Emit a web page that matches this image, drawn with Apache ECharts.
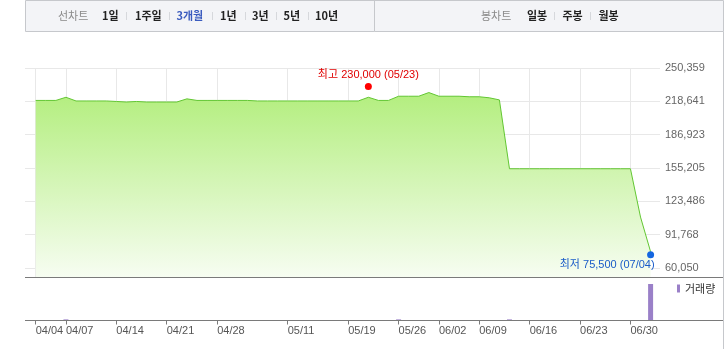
<!DOCTYPE html>
<html><head><meta charset="utf-8">
<script src="https://cdn.jsdelivr.net/npm/echarts@6/dist/echarts.min.js"></script>
<style>html,body{margin:0;padding:0;background:#fff}#c{width:727px;height:349px}</style>
</head><body><div id="c"></div>
<script>
// ---------------- data ----------------
const dates = [
 '04/04','04/05','04/06','04/07','04/08','04/09','04/10','04/11',
 '04/14','04/15','04/16','04/17','04/18',
 '04/21','04/22','04/23','04/24','04/25',
 '04/28','04/29','04/30','05/02','05/07','05/08','05/09',
 '05/11','05/12','05/13','05/14','05/15','05/16',
 '05/19','05/22','05/23','05/24','05/25',
 '05/26','05/27','05/28','05/29',
 '06/02','06/04','06/05','06/06',
 '06/09','06/10','06/11','06/12','06/13',
 '06/16','06/17','06/18','06/19','06/20',
 '06/23','06/24','06/25','06/26','06/27',
 '06/30','07/03','07/04'
];
const closes = [
 219500,219500,219500,222500,219000,219000,219000,219000,
 218500,218000,218500,218000,218000,
 218000,218000,221000,219500,219500,
 219500,219500,219500,219500,219000,219000,219000,
 219000,219000,219000,219000,219000,219000,
 219000,219000,222500,219500,219500,
 223500,223500,223500,227000,
 223500,223500,223500,223000,
 223000,222000,220000,154500,154500,
 154500,154500,154500,154500,154500,
 154500,154500,154500,154500,154500,
 154500,108500,75500
];
const volumes = [
 0,0,0,30000,0,0,0,0,
 0,0,0,0,0,
 0,0,0,0,0,
 0,0,0,0,0,0,0,
 0,0,0,0,0,0,
 0,0,0,0,0,
 30000,0,0,0,
 0,0,0,0,
 0,0,0,30000,0,
 0,0,0,0,0,
 0,0,0,0,0,
 0,0,1000000
];
const yTickLabels = [60050, 91768, 123486, 155205, 186923, 218641, 250359];
const xTickLabels = ['04/04','04/07','04/14','04/21','04/28','05/11','05/19','05/26','06/02','06/09','06/16','06/23','06/30'];
const highDate = '05/23', highValue = 230000;
const lowDate = '07/04', lowValue = 75500;
const volumeName = '거래량';
const lineTabs = ['1일','1주일','3개월','1년','3년','5년','10년'];
const candleTabs = ['일봉','주봉','월봉'];

// ---------------- layout ----------------
const W = 727, H = 349;
const plotTop = 68, gridLineBottom = 268, priceAxisY = 278;
const dataLeft = 35.7, dataRight = 650.6;
const volTop = 284, volBase = 320.5;
const yMin = yTickLabels[0], yMax = yTickLabels[yTickLabels.length - 1];
const yInterval = (yMax - yMin) / (yTickLabels.length - 1);
const dataMin = yMin - (priceAxisY - gridLineBottom) / (gridLineBottom - plotTop) * (yMax - yMin);
const fmt = v => String(v).replace(/\B(?=(\d{3})+(?!\d))/g, ',');
const labelSet = new Set(xTickLabels);
const FONT = "'Liberation Sans','Noto Sans CJK KR',sans-serif";
const KFONT = "'Noto Sans CJK KR',sans-serif";

// toolbar graphics
const graphics = [];
graphics.push({type:'rect', shape:{x:25.5,y:0.5,width:698,height:31}, style:{fill:'#f3f4f7',stroke:'#c6c8cc',lineWidth:1}, silent:true});
graphics.push({type:'line', shape:{x1:374.5,y1:0,x2:374.5,y2:31.5}, style:{stroke:'#c6c8cc',lineWidth:1}});
function tabText(x, text, color, bold){
  graphics.push({type:'text', x:x, y:16, style:{text:text, fill:color, font:(bold?'bold ':'')+'11px '+KFONT, textVerticalAlign:'middle', verticalAlign:'middle'}});
}
function sep(x){ graphics.push({type:'line', shape:{x1:x,y1:12,x2:x,y2:20}, style:{stroke:'#d6d8dc',lineWidth:1}}); }
tabText(58, '선차트', '#8a8a8a', false);
const lineTabX = [102,135,176.5,220,252,283.5,315];
const sepX1 = [126.5,169.5,212.5,245.5,276.5,308.5];
lineTabs.forEach((t,i)=>tabText(lineTabX[i], t, t==='3개월' ? '#3b5cbf' : '#222', true));
sepX1.forEach(sep);
tabText(481, '봉차트', '#8a8a8a', false);
const candleTabX = [527,562.5,598.5];
candleTabs.forEach((t,i)=>tabText(candleTabX[i], t, '#222', true));
[554.5,590.5].forEach(sep);
// frame lines
graphics.push({type:'line', shape:{x1:723.5,y1:31.5,x2:723.5,y2:H}, style:{stroke:'#c6c8cc',lineWidth:1}});
graphics.push({type:'line', shape:{x1:25,y1:priceAxisY-0.5,x2:723,y2:priceAxisY-0.5}, style:{stroke:'#7a7a7a',lineWidth:1}, z:10});
graphics.push({type:'line', shape:{x1:25,y1:volBase,x2:723,y2:volBase}, style:{stroke:'#7a7a7a',lineWidth:1}, z:10});

const chart = echarts.init(document.getElementById('c'), null, {renderer:'canvas'});
chart.setOption({
  animation:false,
  backgroundColor:'#fff',
  textStyle:{fontFamily:FONT},
  graphic: graphics,
  legend:{
    data:[volumeName], left:677, top:283, padding:0, itemWidth:3, itemHeight:8, icon:'rect',
    selectedMode:false,
    textStyle:{fontSize:11, color:'#333', fontFamily:KFONT}
  },
  grid:[
    {left:25, right:W-660, top:plotTop, bottom:H-gridLineBottom},
    {left:dataLeft, right:W-dataRight, top:plotTop, bottom:H-priceAxisY},
    {left:dataLeft, right:W-dataRight, top:volTop, bottom:H-volBase}
  ],
  xAxis:[
    {gridIndex:0, type:'value', show:false, min:0, max:1},
    {gridIndex:1, type:'category', data:dates, boundaryGap:false,
     axisLine:{show:false}, axisTick:{show:false}, axisLabel:{show:false},
     splitLine:{show:true, interval:(i,v)=>labelSet.has(v), lineStyle:{color:'#e8e8e8',width:1}}},
    {gridIndex:2, type:'category', data:dates, boundaryGap:false,
     axisLine:{show:false},
     axisTick:{show:true, interval:(i,v)=>labelSet.has(v), length:4, lineStyle:{color:'#7a7a7a'}},
     axisLabel:{show:true, interval:(i,v)=>labelSet.has(v), align:'left', margin:5, fontSize:11, color:'#555', fontFamily:FONT, hideOverlap:false},
     splitLine:{show:false}}
  ],
  yAxis:[
    {gridIndex:0, type:'value', position:'right', min:yMin, max:yMax, interval:yInterval,
     axisLine:{show:false}, axisTick:{show:false},
     axisLabel:{margin:5, fontSize:11, color:'#666', fontFamily:FONT,
       formatter:v=>{ let best=yTickLabels[0]; yTickLabels.forEach(t=>{ if(Math.abs(t-v)<Math.abs(best-v)) best=t; }); return fmt(best); }},
     splitLine:{show:true, lineStyle:{color:'#e8e8e8',width:1}}},
    {gridIndex:1, type:'value', min:dataMin, max:yMax, show:false, splitLine:{show:false}},
    {gridIndex:2, type:'value', min:0, max:'dataMax', show:false, splitLine:{show:false}}
  ],
  series:[
    {type:'line', xAxisIndex:1, yAxisIndex:1, data:closes, symbol:'none',
     lineStyle:{color:'#62c632', width:1},
     areaStyle:{origin:'start', opacity:1, color:new echarts.graphic.LinearGradient(0,0,0,1,[{offset:0,color:'#b3ee7e'},{offset:1,color:'#f7fdf2'}])}},
    {type:'scatter', xAxisIndex:1, yAxisIndex:1, data:[[highDate, highValue]], symbol:'circle', symbolSize:7, symbolOffset:[0,-3],
     itemStyle:{color:'#ff0000', opacity:1}, z:5,
     label:{show:true, position:'top', distance:2, formatter:'최고 '+fmt(highValue)+' ('+highDate+')', color:'#e00000', fontSize:11, fontFamily:FONT}},
    {type:'scatter', xAxisIndex:1, yAxisIndex:1, data:[[lowDate, lowValue]], symbol:'circle', symbolSize:7, symbolOffset:[0,3],
     itemStyle:{color:'#1466e0', opacity:1}, z:5,
     label:{show:true, position:'bottom', distance:1, align:'right', offset:[4,0], formatter:'최저 '+fmt(lowValue)+' ('+lowDate+')', color:'#1a5cc8', fontSize:11, fontFamily:FONT}},
    {type:'bar', name:volumeName, xAxisIndex:2, yAxisIndex:2, data:volumes, barWidth:5, itemStyle:{color:'#9a80c8'}}
  ]
});
</script></body></html>
